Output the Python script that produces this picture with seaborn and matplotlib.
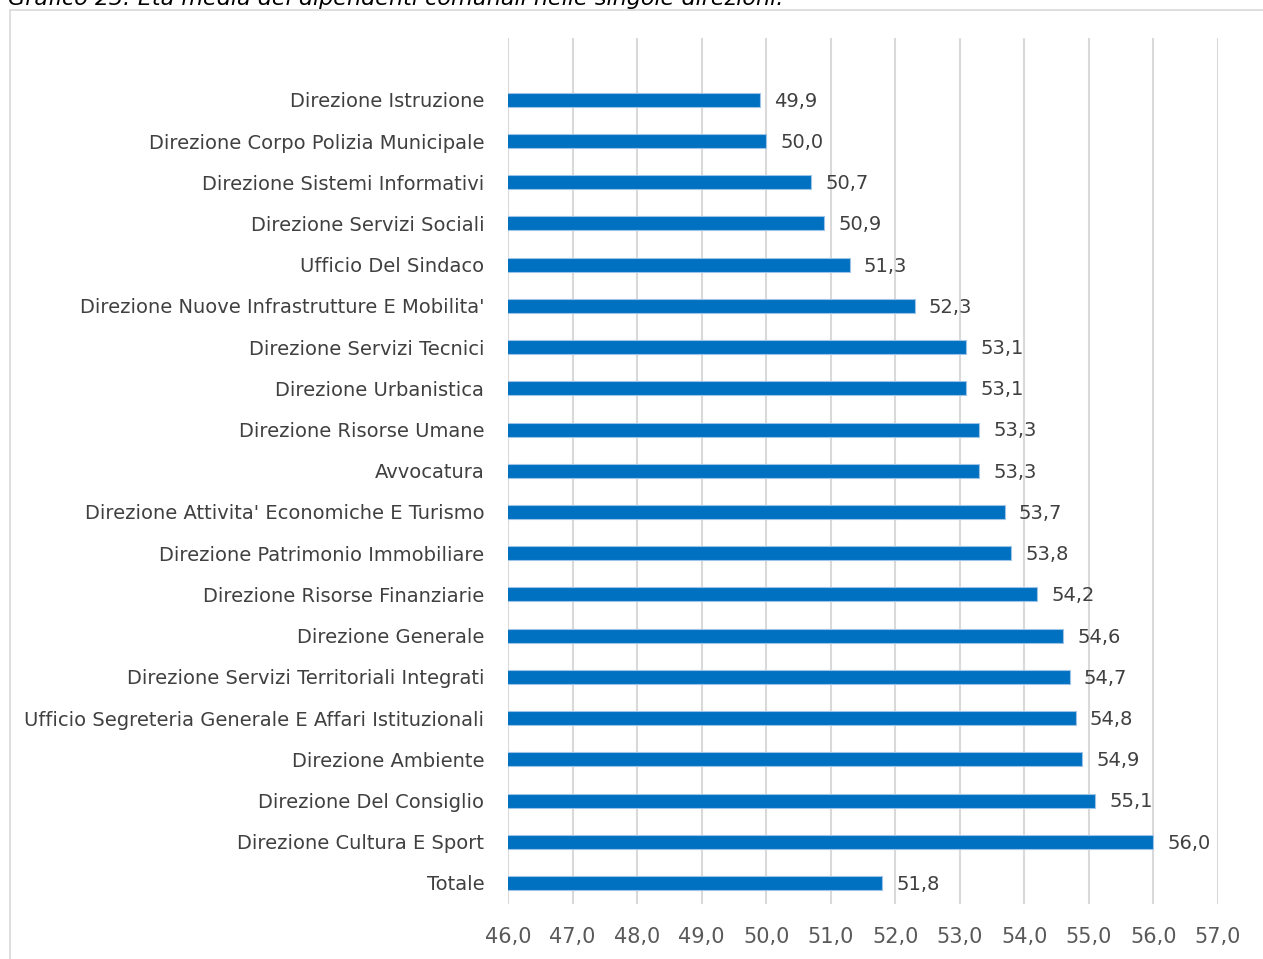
import matplotlib
matplotlib.use("Agg")
import matplotlib.pyplot as plt
import seaborn as sns
import pandas as pd
from matplotlib.patches import Rectangle

# --- data ---
directions = [
    "Direzione Istruzione",
    "Direzione Corpo Polizia Municipale",
    "Direzione Sistemi Informativi",
    "Direzione Servizi Sociali",
    "Ufficio Del Sindaco",
    "Direzione Nuove Infrastrutture E Mobilita'",
    "Direzione Servizi Tecnici",
    "Direzione Urbanistica",
    "Direzione Risorse Umane",
    "Avvocatura",
    "Direzione Attivita' Economiche E Turismo",
    "Direzione Patrimonio Immobiliare",
    "Direzione Risorse Finanziarie",
    "Direzione Generale",
    "Direzione Servizi Territoriali Integrati",
    "Ufficio Segreteria Generale E Affari Istituzionali",
    "Direzione Ambiente",
    "Direzione Del Consiglio",
    "Direzione Cultura E Sport",
    "Totale",
]
mean_age = [49.9, 50.0, 50.7, 50.9, 51.3, 52.3, 53.1, 53.1, 53.3, 53.3,
            53.7, 53.8, 54.2, 54.6, 54.7, 54.8, 54.9, 55.1, 56.0, 51.8]
x_ticks = [46, 47, 48, 49, 50, 51, 52, 53, 54, 55, 56, 57]

title = "Grafico 23: Età media dei dipendenti comunali nelle singole direzioni."

df = pd.DataFrame({"direzione": directions, "eta": mean_age})

sns.set_style("white")
plt.rcParams["font.family"] = ["DejaVu Sans"]

fig = plt.figure(figsize=(12.63, 9.59), dpi=100)
ax = fig.add_axes([0.4022, 0.0578, 0.5622, 0.9026])

sns.barplot(data=df, x="eta", y="direzione", orient="h", color="#0070C0",
            width=0.34, edgecolor="#9DC3E6", linewidth=0.8, saturation=1,
            ax=ax, zorder=3)

ax.set_xlim(46, 57)
ax.set_ylim(len(directions) - 0.5, -1.5)
ax.set_xticks(x_ticks)
ax.set_xticklabels([f"{t:.1f}".replace(".", ",") for t in x_ticks],
                   family=["Liberation Sans Narrow", "DejaVu Sans"],
                   fontsize=15, color="#595959")
ax.tick_params(axis="x", length=0, pad=17)
ax.tick_params(axis="y", length=0, pad=17, labelsize=14, labelcolor="#404040")
ax.set_xlabel("")
ax.set_ylabel("")
ax.grid(axis="x", color="#D9D9D9", linewidth=1.5, zorder=0)
ax.set_axisbelow(True)
for s in ax.spines.values():
    s.set_visible(False)

# value labels
for i, v in enumerate(mean_age):
    ax.annotate(f"{v:.1f}".replace(".", ","), (v, i), xytext=(10, -1),
                textcoords="offset points", va="center", ha="left",
                fontsize=14, color="#404040")

# chart frame and clipped title (cut at the top edge as in the source)
fig.patches.append(Rectangle((10 / 1263, -0.05), 1.2, 1 - 10 / 959 + 0.05,
                             transform=fig.transFigure, fill=False,
                             edgecolor="#D9D9D9", linewidth=1.2))
fig.text(8 / 1263, 1 - 5 / 959, title, ha="left", va="baseline",
         fontsize=16, style="italic", color="#000000")

fig.savefig("out.png", dpi=100)
